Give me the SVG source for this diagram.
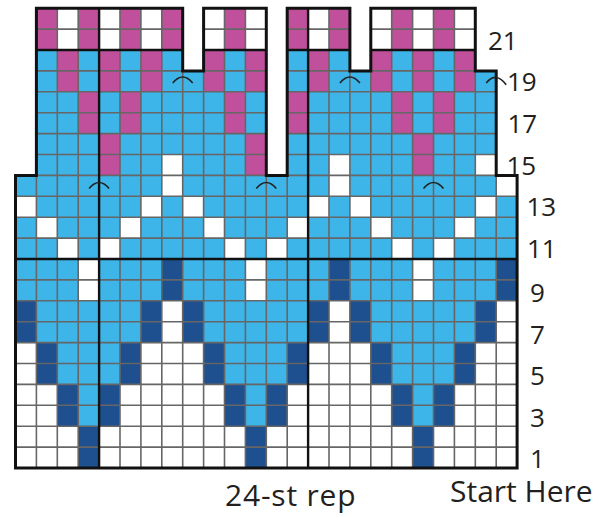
<svg xmlns="http://www.w3.org/2000/svg" width="597" height="517" viewBox="0 0 597 517">
<style>
.m{fill:#C1509C}.w{fill:#FFFFFF}.b{fill:#3DB5E8}.d{fill:#1E4F8F}
.grid{fill:none;stroke:#666666;stroke-width:1.6}
.thick{fill:none;stroke:#111111;stroke-width:2.4}
.outline{fill:none;stroke:#111111;stroke-width:3;stroke-linejoin:miter}
.arc{fill:none;stroke:#222222;stroke-width:1.6}
.lbl{font-family:"Open Sans","Noto Sans","Liberation Sans",sans-serif;font-size:26px;fill:#231F20}
.cap{font-family:"Open Sans","Noto Sans","Liberation Sans",sans-serif;font-size:30px;fill:#231F20}
</style>
<defs>
<path id="shape" d="M0 459.8V167.2H20.9V0H167.2V62.7H188.1V0H250.8V167.2H271.7V0H334.4V62.7H355.3V0H459.8V62.7H480.7V167.2H501.6V459.8Z"/>
<clipPath id="clip"><use href="#shape"/></clipPath>
</defs>
<rect width="597" height="517" fill="#FFFFFF"/>
<g id="chart" transform="translate(15.5,8.2)">
<use href="#shape" class="b"/>
<rect class="w" x="0" y="334.4" width="501.6" height="125.4"/>
<g id="cells">
<rect class="d" x="62.7" y="418" width="20.9" height="41.8"/>
<rect class="d" x="229.9" y="418" width="20.9" height="41.8"/>
<rect class="d" x="397.1" y="418" width="20.9" height="41.8"/>
<rect class="d" x="41.8" y="376.2" width="20.9" height="41.8"/>
<rect class="b" x="62.7" y="376.2" width="20.9" height="41.8"/>
<rect class="d" x="83.6" y="376.2" width="20.9" height="41.8"/>
<rect class="d" x="209" y="376.2" width="20.9" height="41.8"/>
<rect class="b" x="229.9" y="376.2" width="20.9" height="41.8"/>
<rect class="d" x="250.8" y="376.2" width="20.9" height="41.8"/>
<rect class="d" x="376.2" y="376.2" width="20.9" height="41.8"/>
<rect class="b" x="397.1" y="376.2" width="20.9" height="41.8"/>
<rect class="d" x="418" y="376.2" width="20.9" height="41.8"/>
<rect class="d" x="20.9" y="334.4" width="20.9" height="41.8"/>
<rect class="b" x="41.8" y="334.4" width="62.7" height="41.8"/>
<rect class="d" x="104.5" y="334.4" width="20.9" height="41.8"/>
<rect class="d" x="188.1" y="334.4" width="20.9" height="41.8"/>
<rect class="b" x="209" y="334.4" width="62.7" height="41.8"/>
<rect class="d" x="271.7" y="334.4" width="20.9" height="41.8"/>
<rect class="d" x="355.3" y="334.4" width="20.9" height="41.8"/>
<rect class="b" x="376.2" y="334.4" width="62.7" height="41.8"/>
<rect class="d" x="438.9" y="334.4" width="20.9" height="41.8"/>
<rect class="d" x="0" y="292.6" width="20.9" height="41.8"/>
<rect class="d" x="125.4" y="292.6" width="20.9" height="41.8"/>
<rect class="w" x="146.3" y="292.6" width="20.9" height="41.8"/>
<rect class="d" x="167.2" y="292.6" width="20.9" height="41.8"/>
<rect class="d" x="292.6" y="292.6" width="20.9" height="41.8"/>
<rect class="w" x="313.5" y="292.6" width="20.9" height="41.8"/>
<rect class="d" x="334.4" y="292.6" width="20.9" height="41.8"/>
<rect class="d" x="459.8" y="292.6" width="20.9" height="41.8"/>
<rect class="w" x="480.7" y="292.6" width="20.9" height="41.8"/>
<rect class="w" x="62.7" y="250.8" width="20.9" height="41.8"/>
<rect class="d" x="146.3" y="250.8" width="20.9" height="41.8"/>
<rect class="w" x="229.9" y="250.8" width="20.9" height="41.8"/>
<rect class="d" x="313.5" y="250.8" width="20.9" height="41.8"/>
<rect class="w" x="397.1" y="250.8" width="20.9" height="41.8"/>
<rect class="d" x="480.7" y="250.8" width="20.9" height="41.8"/>
<rect class="w" x="41.8" y="229.9" width="20.9" height="20.9"/>
<rect class="w" x="83.6" y="229.9" width="20.9" height="20.9"/>
<rect class="w" x="209" y="229.9" width="20.9" height="20.9"/>
<rect class="w" x="250.8" y="229.9" width="20.9" height="20.9"/>
<rect class="w" x="376.2" y="229.9" width="20.9" height="20.9"/>
<rect class="w" x="418" y="229.9" width="20.9" height="20.9"/>
<rect class="w" x="20.9" y="209" width="20.9" height="20.9"/>
<rect class="w" x="104.5" y="209" width="20.9" height="20.9"/>
<rect class="w" x="188.1" y="209" width="20.9" height="20.9"/>
<rect class="w" x="271.7" y="209" width="20.9" height="20.9"/>
<rect class="w" x="355.3" y="209" width="20.9" height="20.9"/>
<rect class="w" x="438.9" y="209" width="20.9" height="20.9"/>
<rect class="w" x="0" y="188.1" width="20.9" height="20.9"/>
<rect class="w" x="125.4" y="188.1" width="20.9" height="20.9"/>
<rect class="w" x="167.2" y="188.1" width="20.9" height="20.9"/>
<rect class="w" x="292.6" y="188.1" width="20.9" height="20.9"/>
<rect class="w" x="334.4" y="188.1" width="20.9" height="20.9"/>
<rect class="w" x="459.8" y="188.1" width="20.9" height="20.9"/>
<rect class="w" x="146.3" y="167.2" width="20.9" height="20.9"/>
<rect class="w" x="313.5" y="167.2" width="20.9" height="20.9"/>
<rect class="w" x="480.7" y="167.2" width="20.9" height="20.9"/>
<rect class="m" x="83.6" y="125.4" width="20.9" height="41.8"/>
<rect class="m" x="229.9" y="125.4" width="20.9" height="41.8"/>
<rect class="m" x="397.1" y="125.4" width="20.9" height="41.8"/>
<rect class="w" x="146.3" y="146.3" width="20.9" height="20.9"/>
<rect class="w" x="313.5" y="146.3" width="20.9" height="20.9"/>
<rect class="w" x="459.8" y="146.3" width="20.9" height="20.9"/>
<rect class="m" x="62.7" y="83.6" width="20.9" height="41.8"/>
<rect class="m" x="104.5" y="83.6" width="20.9" height="41.8"/>
<rect class="m" x="209" y="83.6" width="20.9" height="41.8"/>
<rect class="m" x="271.7" y="83.6" width="20.9" height="41.8"/>
<rect class="m" x="376.2" y="83.6" width="20.9" height="41.8"/>
<rect class="m" x="418" y="83.6" width="20.9" height="41.8"/>
<rect class="m" x="41.8" y="41.8" width="20.9" height="41.8"/>
<rect class="m" x="83.6" y="41.8" width="20.9" height="41.8"/>
<rect class="m" x="125.4" y="41.8" width="20.9" height="41.8"/>
<rect class="m" x="188.1" y="41.8" width="20.9" height="41.8"/>
<rect class="m" x="229.9" y="41.8" width="20.9" height="41.8"/>
<rect class="m" x="292.6" y="41.8" width="20.9" height="41.8"/>
<rect class="m" x="355.3" y="41.8" width="20.9" height="41.8"/>
<rect class="m" x="397.1" y="41.8" width="20.9" height="41.8"/>
<rect class="m" x="438.9" y="41.8" width="20.9" height="41.8"/>
<rect class="m" x="20.9" y="0" width="20.9" height="41.8"/>
<rect class="w" x="41.8" y="0" width="20.9" height="41.8"/>
<rect class="m" x="62.7" y="0" width="20.9" height="41.8"/>
<rect class="w" x="83.6" y="0" width="20.9" height="41.8"/>
<rect class="m" x="104.5" y="0" width="20.9" height="41.8"/>
<rect class="w" x="125.4" y="0" width="20.9" height="41.8"/>
<rect class="m" x="146.3" y="0" width="20.9" height="41.8"/>
<rect class="w" x="188.1" y="0" width="20.9" height="41.8"/>
<rect class="m" x="209" y="0" width="20.9" height="41.8"/>
<rect class="w" x="229.9" y="0" width="20.9" height="41.8"/>
<rect class="m" x="271.7" y="0" width="20.9" height="41.8"/>
<rect class="w" x="292.6" y="0" width="20.9" height="41.8"/>
<rect class="m" x="313.5" y="0" width="20.9" height="41.8"/>
<rect class="w" x="355.3" y="0" width="20.9" height="41.8"/>
<rect class="m" x="376.2" y="0" width="20.9" height="41.8"/>
<rect class="w" x="397.1" y="0" width="20.9" height="41.8"/>
<rect class="m" x="418" y="0" width="20.9" height="41.8"/>
<rect class="w" x="438.9" y="0" width="20.9" height="41.8"/>
</g>
<g id="gridlines" clip-path="url(#clip)">
<path class="grid" d="M20.9 0V459.8M41.8 0V459.8M62.7 0V459.8M83.6 0V459.8M104.5 0V459.8M125.4 0V459.8M146.3 0V459.8M167.2 0V459.8M188.1 0V459.8M209 0V459.8M229.9 0V459.8M250.8 0V459.8M271.7 0V459.8M292.6 0V459.8M313.5 0V459.8M334.4 0V459.8M355.3 0V459.8M376.2 0V459.8M397.1 0V459.8M418 0V459.8M438.9 0V459.8M459.8 0V459.8M480.7 0V459.8M0 20.9H501.6M0 41.8H501.6M0 62.7H501.6M0 83.6H501.6M0 104.5H501.6M0 125.4H501.6M0 146.3H501.6M0 167.2H501.6M0 188.1H501.6M0 209H501.6M0 229.9H501.6M0 250.8H501.6M0 271.7H501.6M0 292.6H501.6M0 313.5H501.6M0 334.4H501.6M0 355.3H501.6M0 376.2H501.6M0 397.1H501.6M0 418H501.6M0 438.9H501.6"/>
</g>
<g id="connectors">
<path class="thick" d="M83.6 0V459.8M292.6 0V459.8M0 250.8H501.6M20.9 41.8H167.2M188.1 41.8H250.8M271.7 41.8H334.4M355.3 41.8H459.8"/>
<use href="#shape" class="outline"/>
</g>
<g id="arcs">
<path class="arc" d="M157.2 74.8Q167.2 62.8 177.2 74.8"/>
<path class="arc" d="M324.4 74.8Q334.4 62.8 344.4 74.8"/>
<path class="arc" d="M470.7 74.8Q480.7 62.8 490.7 76.5"/>
<path class="arc" d="M73.6 180.3Q83.6 168.3 93.6 180.3"/>
<path class="arc" d="M240.8 180.3Q250.8 168.3 260.8 180.3"/>
<path class="arc" d="M408 180.3Q418 168.3 428 180.3"/>
</g>
</g>
<g id="labels">
<text class="lbl" x="488" y="49.5">21</text>
<text class="lbl" x="507" y="91">19</text>
<text class="lbl" x="507.5" y="133">17</text>
<text class="lbl" x="506.5" y="174.5">15</text>
<text class="lbl" x="526.5" y="216">13</text>
<text class="lbl" x="527" y="258">11</text>
<text class="lbl" x="530" y="301.5">9</text>
<text class="lbl" x="530" y="343.5">7</text>
<text class="lbl" x="530" y="385">5</text>
<text class="lbl" x="530" y="426.5">3</text>
<text class="lbl" x="530" y="468">1</text>
<text class="cap" x="225" y="506" letter-spacing="0.8">24-st rep</text>
<text class="cap" x="450" y="502">Start Here</text>
</g>
</svg>
